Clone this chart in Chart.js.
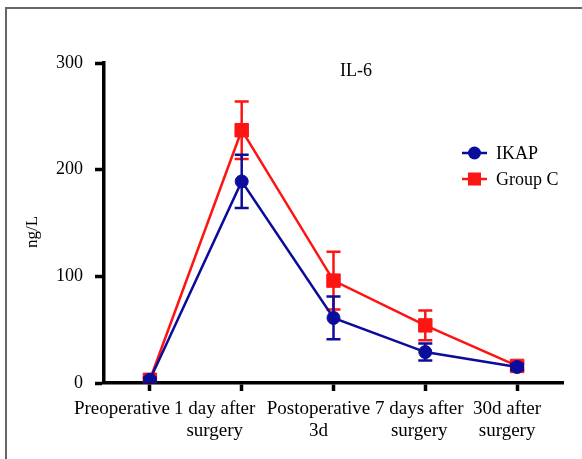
<!DOCTYPE html>
<html>
<head>
<meta charset="utf-8">
<script src="https://cdn.jsdelivr.net/npm/chart.js@4.4.1/dist/chart.umd.min.js"></script>
<style>
  html, body { margin: 0; padding: 0; background: #fff; overflow: hidden; }
  #frame { position: absolute; left: 5px; top: 7px; width: 700px; height: 600px;
           border-left: 2px solid #666; border-top: 2px solid #666; }
  #wrap { position: absolute; left: 0; top: 0; width: 582px; height: 459px; }
</style>
</head>
<body>
<div id="frame"></div>
<div id="wrap"><canvas id="chart" width="582" height="459"></canvas></div>
<script>
  /* ===== Data ===== */
  const timepoints = [
    ['Preoperative'],
    ['1 day after', 'surgery'],
    ['Postoperative', '3d'],
    ['7 days after', 'surgery'],
    ['30d after', 'surgery']
  ];
  const ikapMean = [3, 189, 61, 29, 15];
  const ikapErr = [2, 25, 20, 8, 3];
  const groupCMean = [3, 237, 96, 54, 16];
  const groupCErr = [2, 27, 27, 14, 3];
  const yMin = 0;
  const yMax = 300;
  const yStep = 100;

  const BLUE = '#0c0c9c';
  const RED = '#ff1414';
  const SERIF = '"Liberation Serif", "Times New Roman", serif';
  // the source nudges each category label left by a different amount
  const LABEL_SHIFT = [-28, -27, -15, -6, -10];

  /* ===== Plugins ===== */
  // vertical error bars, drawn just before each dataset so markers sit on top
  const errorBars = {
    id: 'errorBars',
    beforeDatasetDraw(chart, args) {
      const ds = chart.data.datasets[args.index];
      const meta = chart.getDatasetMeta(args.index);
      const y = chart.scales.y;
      const ctx = chart.ctx;
      ctx.save();
      ctx.strokeStyle = ds.borderColor;
      ctx.lineWidth = 2.5;
      meta.data.forEach((pt, i) => {
        const m = ds.data[i];
        const e = ds.errors[i];
        const top = y.getPixelForValue(m + e);
        const bot = y.getPixelForValue(m - e);
        ctx.beginPath();
        ctx.moveTo(pt.x, top); ctx.lineTo(pt.x, bot);
        ctx.moveTo(pt.x - 7, top); ctx.lineTo(pt.x + 7, top);
        ctx.moveTo(pt.x - 7, bot); ctx.lineTo(pt.x + 7, bot);
        ctx.stroke();
      });
      ctx.restore();
    }
  };

  // category labels, axis title, panel title and legend
  const overlay = {
    id: 'overlay',
    afterDraw(chart) {
      const ctx = chart.ctx;
      const x = chart.scales.x;
      ctx.save();
      ctx.fillStyle = '#000';

      ctx.font = '19px ' + SERIF;
      ctx.textAlign = 'center';
      ctx.textBaseline = 'alphabetic';
      chart.data.labels.forEach((lines, i) => {
        const px = x.getPixelForTick(i) + LABEL_SHIFT[i];
        lines.forEach((line, j) => ctx.fillText(line, px, 414 + j * 22));
      });

      // y axis title, a little below the axis middle as in the source
      ctx.save();
      ctx.translate(33, 232);
      ctx.rotate(-Math.PI / 2);
      ctx.font = '17px ' + SERIF;
      ctx.textBaseline = 'middle';
      ctx.fillText('ng/L', 0, 0);
      ctx.restore();

      ctx.font = '18px ' + SERIF;
      ctx.textAlign = 'center';
      ctx.textBaseline = 'middle';
      ctx.fillText('IL-6', 356, 71);

      const rows = [153, 179];
      chart.data.datasets.forEach((ds, i) => {
        const yy = rows[i];
        ctx.strokeStyle = ds.borderColor;
        ctx.fillStyle = ds.borderColor;
        ctx.lineWidth = 2.5;
        ctx.beginPath();
        ctx.moveTo(462, yy); ctx.lineTo(487, yy);
        ctx.stroke();
        if (ds.pointStyle === 'rect') {
          ctx.fillRect(474.5 - 6.5, yy - 6.5, 13, 13);
        } else {
          ctx.beginPath();
          ctx.arc(474.5, yy, 6.5, 0, Math.PI * 2);
          ctx.fill();
        }
        ctx.fillStyle = '#000';
        ctx.textAlign = 'left';
        ctx.fillText(ds.label, 496, yy + 1);
      });
      ctx.restore();
    }
  };

  /* ===== Chart ===== */
  new Chart(document.getElementById('chart'), {
    type: 'line',
    data: {
      labels: timepoints,
      datasets: [
        {
          label: 'IKAP',
          data: ikapMean,
          errors: ikapErr,
          borderColor: BLUE,
          backgroundColor: BLUE,
          borderWidth: 2.5,
          pointStyle: 'circle',
          pointRadius: 6.5,
          pointBorderWidth: 1,
          tension: 0
        },
        {
          label: 'Group C',
          data: groupCMean,
          errors: groupCErr,
          borderColor: RED,
          backgroundColor: RED,
          borderWidth: 2.5,
          pointStyle: 'rect',
          pointRadius: 9.5,
          pointBorderWidth: 1,
          tension: 0
        }
      ]
    },
    options: {
      responsive: false,
      animation: false,
      layout: { padding: { left: 10, right: 19, top: 63, bottom: 0 } },
      plugins: {
        legend: { display: false },
        tooltip: { enabled: false }
      },
      scales: {
        x: {
          type: 'category',
          offset: true,
          afterFit(s) { s.height = 76; },
          grid: {
            drawOnChartArea: false, offset: false,
            tickLength: 8, tickWidth: 3.5, tickColor: '#000'
          },
          border: { display: true, color: '#000', width: 3.5 },
          ticks: { display: false }
        },
        y: {
          min: yMin,
          max: yMax,
          afterFit(s) { s.width = 94; },
          grid: {
            drawOnChartArea: false,
            tickLength: 9, tickWidth: 3.5, tickColor: '#000'
          },
          border: { display: true, color: '#000', width: 3.5 },
          ticks: {
            stepSize: yStep,
            color: '#000',
            font: { family: SERIF, size: 18 },
            padding: 12
          }
        }
      }
    },
    plugins: [errorBars, overlay]
  });
</script>
</body>
</html>
